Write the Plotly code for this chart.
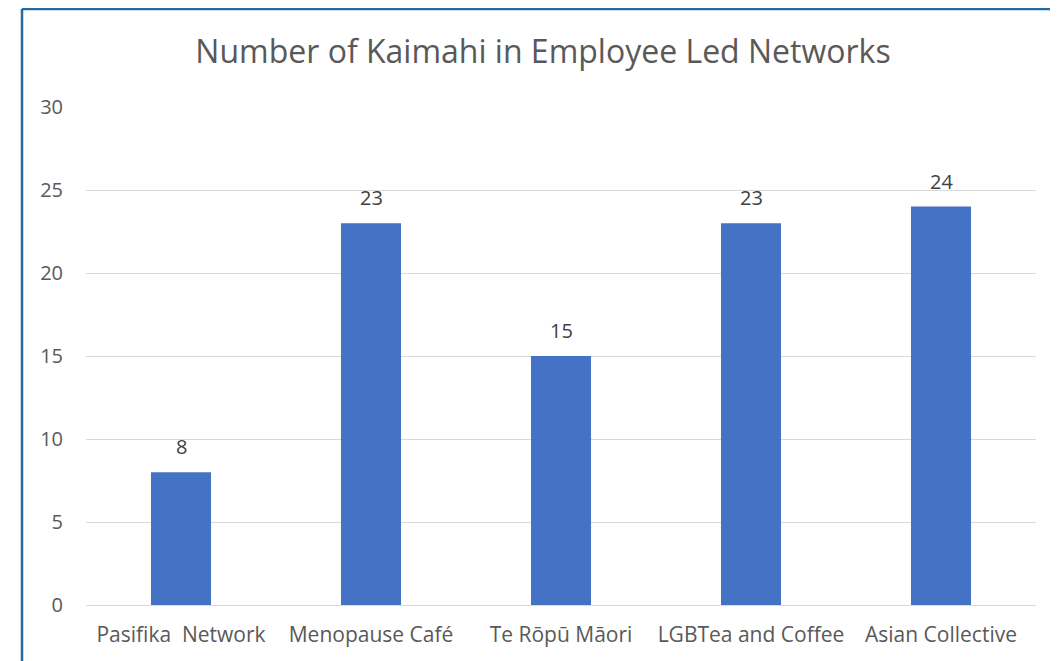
import plotly.graph_objects as go

categories = ["Pasifika  Network", "Menopause Café", "Te Rōpū Māori", "LGBTea and Coffee", "Asian Collective"]
values = [8, 23, 15, 23, 24]
y_ticks = [0, 5, 10, 15, 20, 25, 30]

FONT = "'Open Sans', sans-serif"
W, H = 1050, 653
L, R, T, B = 78, 22, 99, 56
PW, PH = W - L - R, H - T - B

fig = go.Figure(go.Bar(
    x=categories,
    y=values,
    marker=dict(color="#4472C4", line=dict(width=0)),
    hoverinfo="x+y",
))

for c, v in zip(categories, values):
    fig.add_annotation(x=c, y=v, text=str(v), showarrow=False,
                       yanchor="bottom", yshift=10,
                       font=dict(family=FONT, size=20, color="#404040"))

fig.update_layout(
    width=W, height=H,
    paper_bgcolor="white", plot_bgcolor="white",
    margin=dict(l=L, r=R, t=T, b=B),
    bargap=0.684,
    showlegend=False,
    title=dict(text="Number of Kaimahi in Employee Led Networks",
               x=(543 - 8) / W, xanchor="center", y=1 - 44 / H, yanchor="middle",
               font=dict(family=FONT, size=32, color="#595959")),
    xaxis=dict(showgrid=False, showline=False, ticks="", ticklabelstandoff=15,
               tickfont=dict(family=FONT, size=21, color="#595959")),
    yaxis=dict(range=[0, 30], tickvals=y_ticks, showgrid=True, gridcolor="#D9D9D9",
               gridwidth=1.3, zeroline=True, zerolinecolor="#D9D9D9", zerolinewidth=1.3,
               showline=False, ticks="", ticklabelstandoff=22,
               tickfont=dict(family=FONT, size=20, color="#595959")),
)

# chart border (top and left edges visible)
top_y = (PH + T - 1) / PH
left_x = (14 - L) / PW
fig.add_shape(type="line", xref="paper", yref="paper",
              x0=left_x, x1=(W + 20 - L) / PW, y0=top_y, y1=top_y,
              line=dict(color="#1F6BA5", width=2.5))
fig.add_shape(type="line", xref="paper", yref="paper",
              x0=left_x, x1=left_x, y0=top_y, y1=-(B + 20) / PH,
              line=dict(color="#1F6BA5", width=2.5))

fig.write_html("out.html")
